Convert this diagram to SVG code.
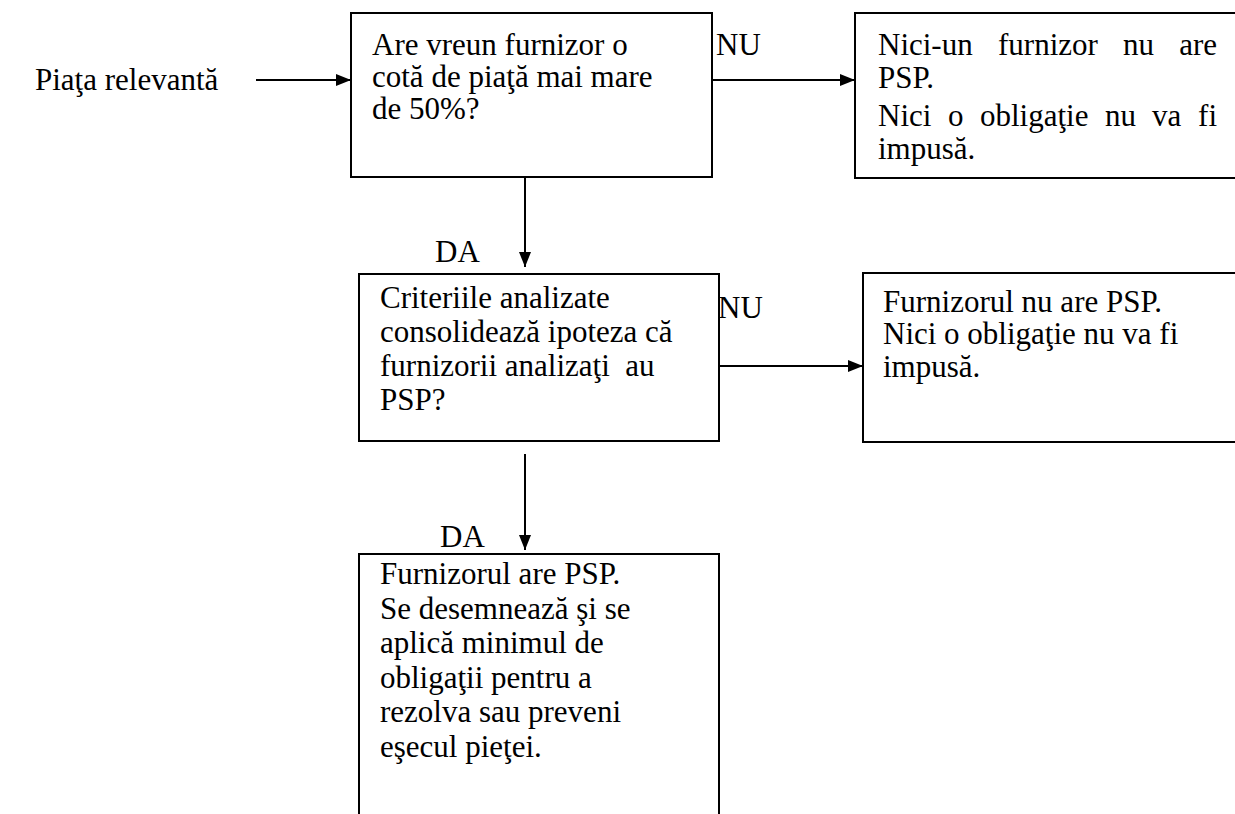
<svg xmlns="http://www.w3.org/2000/svg" width="1235" height="814" viewBox="0 0 1235 814">
<defs>
<marker id="arr" markerWidth="15" markerHeight="12" refX="15" refY="6" orient="auto" markerUnits="userSpaceOnUse">
<path d="M0,0 L15,6 L0,12 Z" fill="#000"/>
</marker>
<style>
text{font-family:"Liberation Serif","Times New Roman","DejaVu Serif",serif;font-size:31px;fill:#000}
.box{fill:#fff;stroke:#000;stroke-width:2}
.con{stroke:#000;stroke-width:2;fill:none}
</style>
</defs>
<rect width="1235" height="814" fill="#fff"/>
<g id="connectors">
<line class="con" x1="256" y1="80" x2="351" y2="80" marker-end="url(#arr)"/>
<line class="con" x1="712" y1="80" x2="855" y2="80" marker-end="url(#arr)"/>
<line class="con" x1="525" y1="177" x2="525" y2="267" marker-end="url(#arr)"/>
<line class="con" x1="719" y1="366" x2="863" y2="366" marker-end="url(#arr)"/>
<line class="con" x1="525" y1="454" x2="525" y2="550" marker-end="url(#arr)"/>
<text x="716" y="55">NU</text>
<text x="435" y="262">DA</text>
<text x="718" y="318">NU</text>
<text x="440" y="547">DA</text>
</g>
<g id="start">
<text x="35" y="90">Piaţa relevantă</text>
</g>
<g id="q1">
<rect class="box" x="351" y="13" width="361" height="164"/>
<text x="372" y="55">Are vreun furnizor o</text>
<text x="372" y="87">cotă de piaţă mai mare</text>
<text x="372" y="119">de 50%?</text>
</g>
<g id="no1">
<rect class="box" x="855" y="13" width="390" height="165"/>
<text y="55"><tspan x="878">Nici-un</tspan><tspan x="998">furnizor</tspan><tspan x="1123">nu</tspan><tspan x="1217" text-anchor="end">are</tspan></text>
<text x="878" y="88">PSP.</text>
<text y="126"><tspan x="878">Nici</tspan><tspan x="948">o</tspan><tspan x="980">obligaţie</tspan><tspan x="1105">nu</tspan><tspan x="1152">va</tspan><tspan x="1217" text-anchor="end">fi</tspan></text>
<text x="878" y="159">impusă.</text>
</g>
<g id="q2">
<rect class="box" x="359" y="274" width="360" height="167"/>
<text x="380" y="308">Criteriile analizate</text>
<text x="380" y="342">consolidează ipoteza că</text>
<text x="380" y="376" xml:space="preserve">furnizorii analizaţi  au</text>
<text x="380" y="410">PSP?</text>
</g>
<g id="no2">
<rect class="box" x="863" y="273" width="380" height="169"/>
<text x="883" y="312">Furnizorul nu are PSP.</text>
<text x="883" y="344">Nici o obligaţie nu va fi</text>
<text x="883" y="377">impusă.</text>
</g>
<g id="yes2">
<rect class="box" x="359" y="554" width="360" height="270"/>
<text x="380" y="584">Furnizorul are PSP.</text>
<text x="380" y="619">Se desemnează şi se</text>
<text x="380" y="653">aplică minimul de</text>
<text x="380" y="688">obligaţii pentru a</text>
<text x="380" y="722">rezolva sau preveni</text>
<text x="380" y="757">eşecul pieţei.</text>
</g>
</svg>
